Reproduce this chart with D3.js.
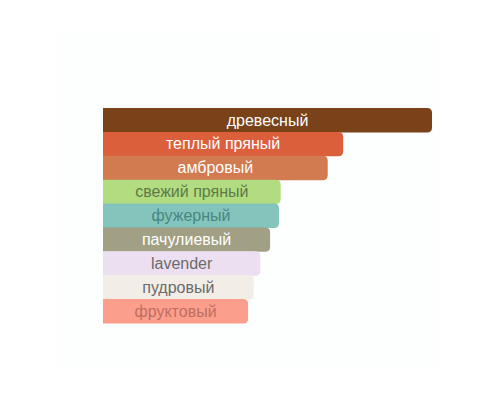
<!DOCTYPE html>
<html>
<head>
<meta charset="utf-8">
<script src="https://cdn.jsdelivr.net/npm/d3@7"></script>
<style>
  html, body { margin: 0; padding: 0; background: #fff; }
  svg { display: block; }
</style>
</head>
<body>
<div id="display"></div>
<script>
// accords, longest first
var accords = ["древесный", "теплый пряный", "амбровый", "свежий пряный", "фужерный",
               "пачулиевый", "lavender", "пудровый", "фруктовый"];
var strengths = [100, 73, 68.3, 54, 53.5, 50.8, 47.8, 45.8, 44.1];
var barColors = ["#7a4219", "#dc5f3b", "#d27a50", "#b1dc7f", "#83c5bc",
                 "#a1a084", "#ecdff2", "#f3ede7", "#fb9e8c"];
var labelColors = ["#ffffff", "#ffffff", "#ffffff", "#5e7a4b", "#4a8580",
                   "#ffffff", "#6b6b6b", "#6b6b6b", "#c06e62"];

var width = 500, height = 400;
var margin = {left: 103, right: 68, top: 108, bottom: 77};

var svg = d3.select("#display").append("svg")
    .attr("width", width)
    .attr("height", height);

// very faint panel behind the chart
svg.append("rect")
    .attr("x", 58).attr("y", 32)
    .attr("width", 382).attr("height", 334)
    .attr("fill", "#fdfefe");

var x = d3.scaleLinear()
    .domain([0, d3.max(strengths)])
    .range([margin.left, width - margin.right]);

var y = d3.scaleBand()
    .domain(accords)
    .range([margin.top, height - margin.bottom])
    .padding(0);

var r = 5;
// bar with rounded right corners only
function barPath(i) {
  var x0 = x(0), x1 = x(strengths[i]), y0 = y(accords[i]), h = y.bandwidth() + 0.5;
  return "M" + x0 + "," + y0 +
    "H" + (x1 - r) +
    "Q" + x1 + "," + y0 + " " + x1 + "," + (y0 + r) +
    "V" + (y0 + h - r) +
    "Q" + x1 + "," + (y0 + h) + " " + (x1 - r) + "," + (y0 + h) +
    "H" + x0 + "Z";
}

svg.append("g")
  .selectAll("path")
  .data(accords)
  .join("path")
    .attr("d", (d, i) => barPath(i))
    .attr("fill", (d, i) => barColors[i]);

svg.append("g")
    .attr("text-anchor", "middle")
    .style("font", "16px 'Liberation Sans', Arial, sans-serif")
  .selectAll("text")
  .data(accords)
  .join("text")
    .attr("x", (d, i) => (x(0) + x(strengths[i])) / 2)
    .attr("y", d => y(d) + y.bandwidth() / 2)
    .attr("dy", "0.35em")
    .attr("fill", (d, i) => labelColors[i])
    .text(d => d);
</script>
</body>
</html>
